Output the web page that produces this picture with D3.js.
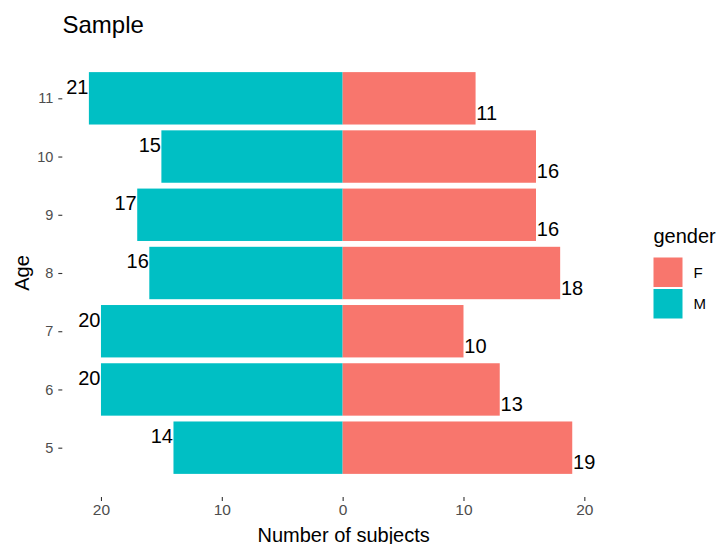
<!DOCTYPE html>
<html>
<head>
<meta charset="utf-8">
<script src="https://cdn.jsdelivr.net/npm/d3@7"></script>
<style>
  html, body { margin: 0; padding: 0; background: #fff; }
  svg { display: block; font-family: "Liberation Sans", Arial, sans-serif; }
</style>
</head>
<body>
<svg id="chart" width="717" height="544"></svg>
<script>
const ages = [5, 6, 7, 8, 9, 10, 11];
const maleCounts = [14, 20, 20, 16, 17, 15, 21];
const femaleCounts = [19, 13, 10, 18, 16, 16, 11];
const xTicks = [-20, -10, 0, 10, 20];
const genders = ["F", "M"];
const genderColors = ["#F8766D", "#00BFC4"];
const titleText = "Sample";
const xTitle = "Number of subjects";
const yTitle = "Age";
const legendTitle = "gender";

const svg = d3.select("#chart");
const panel = { left: 62.3, right: 623, top: 49, bottom: 497 };

const x = d3.scaleLinear().domain([-23.2, 23.2]).range([panel.left, panel.right]);
const y = d3.scaleLinear().domain([4.153, 11.847]).range([panel.bottom, panel.top]);
const color = d3.scaleOrdinal().domain(genders).range(genderColors);
const barW = 0.9;

const rows = ages.map((a, i) => ({ age: a, M: maleCounts[i], F: femaleCounts[i] }));

// Bars
const g = svg.append("g");
g.selectAll("rect.m").data(rows).join("rect")
  .attr("x", d => x(-d.M))
  .attr("width", d => x(0) - x(-d.M))
  .attr("y", d => y(d.age + barW / 2))
  .attr("height", d => y(d.age - barW / 2) - y(d.age + barW / 2))
  .attr("fill", color("M"));
g.selectAll("rect.f").data(rows).join("rect")
  .attr("x", x(0))
  .attr("width", d => x(d.F) - x(0))
  .attr("y", d => y(d.age + barW / 2))
  .attr("height", d => y(d.age - barW / 2) - y(d.age + barW / 2))
  .attr("fill", color("F"));

// Value labels
g.selectAll("text.m").data(rows).join("text")
  .attr("x", d => x(-d.M) - 0.5)
  .attr("y", d => y(d.age) - 4.7)
  .attr("text-anchor", "end")
  .attr("font-size", 20)
  .attr("fill", "#000")
  .text(d => d.M);
g.selectAll("text.f").data(rows).join("text")
  .attr("x", d => x(d.F) + 0.8)
  .attr("y", d => y(d.age) + 21.6)
  .attr("text-anchor", "start")
  .attr("font-size", 20)
  .attr("fill", "#000")
  .text(d => d.F);

// X axis
const xAxis = d3.axisBottom(x).tickValues(xTicks).tickFormat(d => Math.abs(d)).tickSize(4).tickPadding(3);
const gx = svg.append("g").attr("transform", `translate(0,${panel.bottom})`).call(xAxis);
gx.select(".domain").remove();
gx.selectAll(".tick line").attr("stroke", "#333333").attr("stroke-width", 1.1);
gx.selectAll(".tick text").attr("fill", "#4D4D4D").attr("font-size", 15.5)
  .attr("font-family", "Liberation Sans, Arial, sans-serif");

// Y axis
const yAxis = d3.axisLeft(y).tickValues(ages).tickFormat(d3.format("d")).tickSize(4).tickPadding(5);
const gy = svg.append("g").attr("transform", `translate(${panel.left},0)`).call(yAxis);
gy.select(".domain").remove();
gy.selectAll(".tick line").attr("stroke", "#333333").attr("stroke-width", 1.1);
gy.selectAll(".tick text").attr("fill", "#4D4D4D").attr("font-size", 14.5)
  .attr("font-family", "Liberation Sans, Arial, sans-serif");

// Titles
svg.append("text").attr("x", 62.5).attr("y", 33.3).attr("font-size", 24).attr("fill", "#000").text(titleText);
svg.append("text").attr("x", x(0) + 1).attr("y", 541.5).attr("text-anchor", "middle")
  .attr("font-size", 20).attr("fill", "#000").text(xTitle);
svg.append("text").attr("transform", `translate(29,${(panel.top + panel.bottom) / 2}) rotate(-90)`)
  .attr("text-anchor", "middle").attr("font-size", 20).attr("fill", "#000").text(yTitle);

// Legend
const lg = svg.append("g").attr("transform", "translate(653.5,0)");
lg.append("text").attr("x", 0).attr("y", 243).attr("font-size", 20).attr("fill", "#000").text(legendTitle);
const keyY = [257.5, 289];
genders.forEach((gname, i) => {
  lg.append("rect").attr("x", 0).attr("y", keyY[i]).attr("width", 29).attr("height", 29.5)
    .attr("fill", color(gname));
  lg.append("text").attr("x", 40).attr("y", keyY[i] + 14.75).attr("dy", "0.35em")
    .attr("font-size", 15).attr("fill", "#000").text(gname);
});
</script>
</body>
</html>
